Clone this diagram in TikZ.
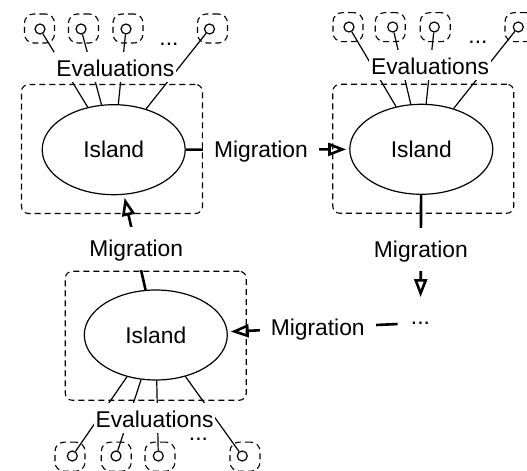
\documentclass[tikz,border=0pt]{standalone}
\usepackage{fontspec}
\setmainfont{Liberation Sans}
\usetikzlibrary{shapes.geometric, arrows.meta}
\tikzset{
  island/.style={draw, ellipse, line width=0.6pt, minimum width=71.5pt, minimum height=45pt, inner sep=0pt},
  islandbox/.style={draw, dash pattern=on 3pt off 2pt, line width=0.55pt, rounded corners=3.5pt, minimum width=90.5pt, minimum height=64.5pt},
  evalbox/.style={draw, dash pattern=on 3pt off 2pt, line width=0.55pt, rounded corners=4.5pt, minimum width=15pt, minimum height=14.5pt, inner sep=0pt},
  evaldot/.style={draw, circle, line width=0.6pt, minimum size=5pt, inner sep=0pt},
  evallabel/.style={fill=white, text height=9.5pt, text depth=0pt, inner xsep=1pt, inner ysep=2.7pt},
  evalmore/.style={anchor=base, inner sep=0pt},
  migration/.style={line width=1.3pt, -{Triangle[open, length=9pt, width=6.5pt]}, shorten >=1.5pt},
  migrlabel/.style={fill=white, text height=8.2pt, text depth=0pt, inner xsep=5.5pt, inner ysep=6.8pt},
}

\begin{document}
\begin{tikzpicture}[x=0.5pt, y=-0.5pt, font=\fontsize{11.4}{13.7}\selectfont]
    \useasboundingbox (0,0) rectangle (527,471);
    \clip (0,0) rectangle (527,471);
    \node[islandbox] (boxA) at (112,149) {};
    \node[islandbox] (boxB) at (423.3,148.8) {};
    \node[islandbox] (boxC) at (155.8,335.8) {};
    \node[island] (isA) at (113.7,149.7) {Island};
    \node[island] (isB) at (421.3,149.3) {Island};
    \node[island] (isC) at (155.8,335) {Island};
    \node[circle, minimum size=22.5pt, inner sep=0pt] (more) at (420.5,323) {...};
    % evaluations, first island
    \node[evalbox] (bxA1) at (39.5,28.5) {};
    \node[evalbox] (bxA2) at (83.5,28.5) {};
    \node[evalbox] (bxA3) at (128,28.5) {};
    \node[evalbox] (bxA4) at (212.5,28.5) {};
    \node[evaldot] (evA1) at (40,29) {};
    \node[evaldot] (evA2) at (81,29) {};
    \node[evaldot] (evA3) at (126,29) {};
    \node[evaldot] (evA4) at (209.5,29) {};
    \draw[line width=0.6pt] (isA) -- (evA1);
    \draw[line width=0.6pt] (isA) -- (evA2);
    \draw[line width=0.6pt] (isA) -- (evA3);
    \draw[line width=0.6pt] (isA) -- (evA4);
    \node[evallabel] (evalA) at (115.3,67.1) {Evaluations};
    \node[evalmore] (dotsA) at (169,45.5) {...};
    % evaluations, second island
    \node[evalbox] (bxB1) at (348,27.2) {};
    \node[evalbox] (bxB2) at (390.3,27.2) {};
    \node[evalbox] (bxB3) at (435.3,27.2) {};
    \node[evalbox] (bxB4) at (520,27.2) {};
    \node[evaldot] (evB1) at (349,27) {};
    \node[evaldot] (evB2) at (392.7,27) {};
    \node[evaldot] (evB3) at (434.3,27) {};
    \node[evaldot] (evB4) at (518.3,27) {};
    \draw[line width=0.6pt] (isB) -- (evB1);
    \draw[line width=0.6pt] (isB) -- (evB2);
    \draw[line width=0.6pt] (isB) -- (evB3);
    \draw[line width=0.6pt] (isB) -- (evB4);
    \node[evallabel] (evalB) at (430,65.4) {Evaluations};
    \node[evalmore] (dotsB) at (478,44) {...};
    % evaluations, third island
    \node[evalbox] (bxC1) at (70,456.7) {};
    \node[evalbox] (bxC2) at (116.3,456.7) {};
    \node[evalbox] (bxC3) at (160,456.7) {};
    \node[evalbox] (bxC4) at (245,456.7) {};
    \node[evaldot] (evC1) at (72.3,456) {};
    \node[evaldot] (evC2) at (116,456) {};
    \node[evaldot] (evC3) at (158.3,456) {};
    \node[evaldot] (evC4) at (242.3,456) {};
    \draw[line width=0.6pt] (isC) -- (evC1);
    \draw[line width=0.6pt] (isC) -- (evC2);
    \draw[line width=0.6pt] (isC) -- (evC3);
    \draw[line width=0.6pt] (isC) -- (evC4);
    \node[evallabel] (evalC) at (154.5,418.4) {Evaluations};
    \node[evalmore] (dotsC) at (198.5,440.5) {...};
    % migrations
    \draw[migration] (isA) -- node[migrlabel, pos=0.46] (migAB) {Migration} (isB);
    \draw[migration] (isB) -- node[migrlabel, pos=0.52] (migBM) {Migration} (more);
    \draw[migration] (more) -- node[migrlabel, pos=0.47] (migMC) {Migration} (isC);
    \draw[migration] (isC) -- node[migrlabel, pos=0.434] (migCA) {Migration} (isA);
\end{tikzpicture}
\end{document}
